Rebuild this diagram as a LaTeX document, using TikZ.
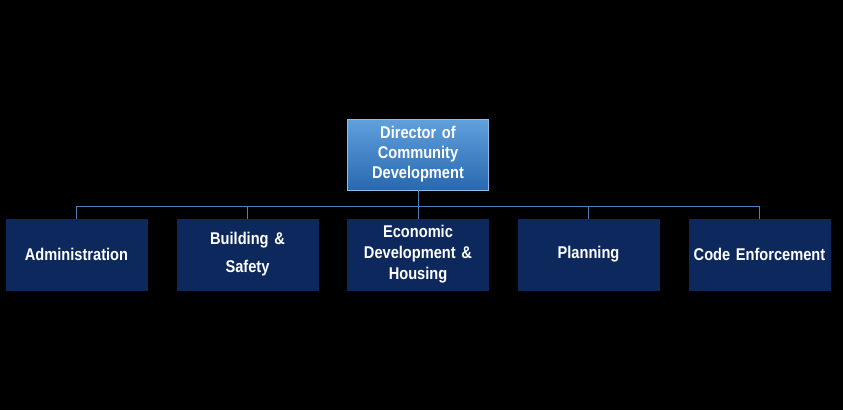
\documentclass[tikz,border=0pt]{standalone}
\usepackage{fontspec}
\setmainfont{Liberation Sans}[FakeStretch=0.86]
\usetikzlibrary{positioning}
\definecolor{navy}{RGB}{12,40,92}
\definecolor{linkblue}{RGB}{79,129,189}
\definecolor{toplight}{RGB}{96,160,220}
\definecolor{topdark}{RGB}{40,104,176}

\begin{document}
\begin{tikzpicture}[
    x=1pt, y=-1pt,
    unit/.style={rectangle, fill=navy, draw=navy, line width=0.6pt, inner sep=2pt, minimum width=141pt, minimum height=71pt, text width=136pt, align=center, text=white, font=\bfseries\fontsize{17}{21}\selectfont},
    head/.style={unit, top color=toplight, bottom color=topdark, draw=toplight!70!white, font=\bfseries\fontsize{17}{20}\selectfont},
    link/.style={draw=linkblue, line width=1pt}
]

    \fill[black] (0,0) rectangle (843,410);
    \useasboundingbox (0,0) rectangle (843,410);

    % director
    \node[head] (D) at (418,154.5) {Director of\\Community\\Development};

    % divisions
    \node[unit] (U1) at (76.5,254.5) {Administration};
    \node[unit, font=\bfseries\fontsize{17}{28}\selectfont] (U2) at (247.5,254.5) {Building \&\\Safety};
    \node[unit] (U3) at (418,254.5) {Economic\\Development \&\\Housing};
    \node[unit] (U4) at (588.5,254.5) {Planning};
    \node[unit] (U5) at (759.5,254.5) {Code Enforcement};

    \coordinate (bus) at (418,206);

    \draw[link] (D.south) -- (bus);
    \foreach \i in {1,...,5}
        \draw[link] (U\i.north) |- (bus);

\end{tikzpicture}
\end{document}
